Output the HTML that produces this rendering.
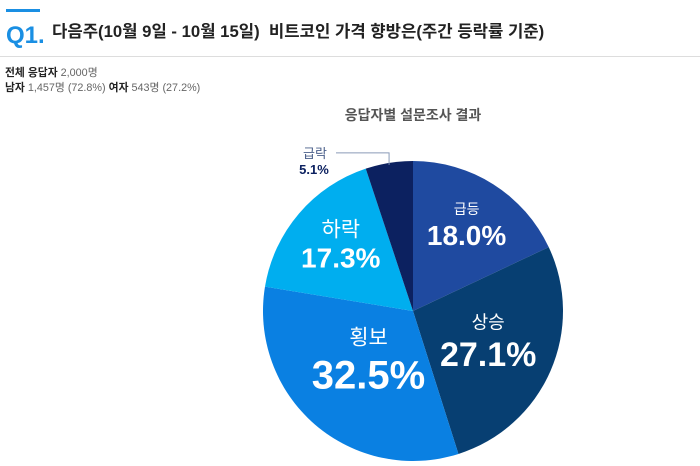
<!DOCTYPE html>
<html><head><meta charset="utf-8">
<style>
body{margin:0;width:700px;height:466px;background:#fff;font-family:"Liberation Sans","Noto Sans CJK KR",sans-serif;overflow:hidden;position:relative}
.q{position:absolute;left:6px;top:22px;color:#1a8fe3;font-weight:bold;font-size:24px}
.qbar{position:absolute;left:6px;top:9px;width:34px;height:3px;background:#1a8fe3}
.title{position:absolute;left:52px;top:18px;font-size:16.7px;font-weight:bold;color:#222}
.hr{position:absolute;left:0;top:56px;width:700px;height:1px;background:#ddd}
.info{position:absolute;left:5px;top:66px;font-size:10.8px;color:#666;line-height:15px}
.info b{color:#222}
</style></head><body>
<div class="qbar"></div>
<div class="q">Q1.</div>
<div class="title">다음주(10월 9일 - 10월 15일)&nbsp; 비트코인 가격 향방은(주간 등락률 기준)</div>
<div class="hr"></div>
<div class="info"><b>전체 응답자</b> 2,000명<br><b>남자</b> 1,457명 (72.8%) <b>여자</b> 543명 (27.2%)</div>
<svg id="pie" width="700" height="466" style="position:absolute;left:0;top:0">
<text x="413" y="120" text-anchor="middle" font-size="14" font-weight="bold" fill="#555">응답자별 설문조사 결과</text>
</svg>
<script>
const categories=["급등","상승","횡보","하락","급락"];
const values=[18.0,27.1,32.5,17.3,5.1];
const colors=["#1f4aa0","#073f72","#0a80e2","#00aeef","#0c2160"];
const labelR=[100,82,68,95,0];
const nameSize=[14,18,21,21,13];
const valSize=[28,34,40,28,13];
const cx=413,cy=311,R=150;
const svg=document.getElementById('pie');
const NS="http://www.w3.org/2000/svg";
const total=values.reduce((a,b)=>a+b,0);
function pt(a,r){return [cx+r*Math.sin(a),cy-r*Math.cos(a)];}
let acc=0;
values.forEach((v,i)=>{
  const a0=acc/total*2*Math.PI; acc+=v; const a1=acc/total*2*Math.PI;
  const p0=pt(a0,R),p1=pt(a1,R);
  const path=document.createElementNS(NS,'path');
  path.setAttribute('d',`M${cx},${cy}L${p0[0]},${p0[1]}A${R},${R} 0 ${a1-a0>Math.PI?1:0} 1 ${p1[0]},${p1[1]}Z`);
  path.setAttribute('fill',colors[i]);
  
  
  svg.appendChild(path);
  const am=(a0+a1)/2;
  if(labelR[i]>0){
    const c=pt(am,labelR[i]);
    const t1=document.createElementNS(NS,'text');
    t1.setAttribute('x',c[0]);t1.setAttribute('y',c[1]-valSize[i]*0.45);
    t1.setAttribute('text-anchor','middle');t1.setAttribute('font-size',nameSize[i]);t1.setAttribute('fill','#fff');
    t1.textContent=categories[i];
    
    
    svg.appendChild(t1);
    const t2=document.createElementNS(NS,'text');
    t2.setAttribute('x',c[0]);t2.setAttribute('y',c[1]+valSize[i]*0.65);
    t2.setAttribute('text-anchor','middle');t2.setAttribute('font-size',valSize[i]);t2.setAttribute('font-weight','bold');t2.setAttribute('fill','#fff');
    t2.textContent=values[i].toFixed(1)+'%';
    
    
    svg.appendChild(t2);
  } else {
    const e=pt(am,R);
    const ln=document.createElementNS(NS,'polyline');
    ln.setAttribute('points',`${e[0]},${e[1]+2} ${e[0]},${e[1]-10} 336,${e[1]-10}`);
    ln.setAttribute('fill','none');ln.setAttribute('stroke','#8a9bb8');ln.setAttribute('stroke-width','1');
    
    
    svg.appendChild(ln);
    const t1=document.createElementNS(NS,'text');
    t1.setAttribute('x',315);t1.setAttribute('y',e[1]-5);t1.setAttribute('text-anchor','middle');
    t1.setAttribute('font-size',13);t1.setAttribute('fill','#4a5f8a');
    t1.textContent=categories[i];
    
    
    svg.appendChild(t1);
    const t2=document.createElementNS(NS,'text');
    t2.setAttribute('x',314);t2.setAttribute('y',e[1]+11);t2.setAttribute('text-anchor','middle');
    t2.setAttribute('font-size',13);t2.setAttribute('font-weight','bold');t2.setAttribute('fill','#0c2160');
    t2.textContent=values[i].toFixed(1)+'%';
    
    
    svg.appendChild(t2);
  }
});
</script>
</body></html>
